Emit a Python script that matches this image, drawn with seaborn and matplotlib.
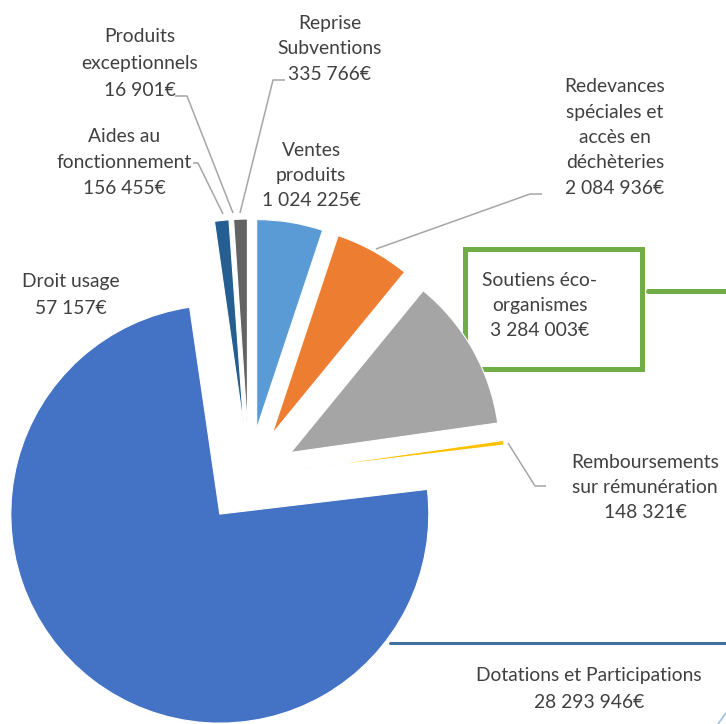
import matplotlib
matplotlib.use("Agg")
import matplotlib.pyplot as plt
import seaborn as sns
from matplotlib.patches import Rectangle

# slices in clockwise order from 12 o'clock
categories = ["Ventes\nproduits", "Redevances\nspéciales et\naccès en\ndéchèteries",
              "Soutiens éco-\norganismes", "Remboursements\nsur rémunération",
              "Dotations et Participations", "Droit usage", "Aides au\nfonctionnement",
              "Produits\nexceptionnels", "Reprise\nSubventions"]
amounts = ["1 024 225€", "2 084 936€", "3 284 003€", "148 321€", "28 293 946€",
           "57 157€", "156 455€", "16 901€", "335 766€"]
# slice sizes as drawn (degrees of the circle)
shares = [18.4, 20.9, 42.6, 1.3, 268.5, 0.2, 4.0, 0.3, 3.8]

colors = ["#5B9BD5", "#ED7D31", "#A5A5A5", "#FFC000", "#4472C4",
          "#70AD47", "#255E91", "#9E480E", "#636363"]

W, H = 726, 724
TXT = "#404040"
LEAD = "#A6A6A6"

# label layout: centre x, first line y (image px), line step
layout = [(311, 150, 25.5), (615, 87, 25.3), (540, 280, 25.2), (645, 462, 25.2),
          (589, 675, 27.5), (71, 282, 26), (124, 137, 25.5), (140, 37, 26.5), (330, 23, 26)]


def iy(y):
    return H - y


sns.set_theme(style="white")
plt.rcParams["font.family"] = ["Lato", "DejaVu Sans"]

fig = plt.figure(figsize=(W / 100, H / 100), dpi=100)
ax = fig.add_axes([0, 0, 1, 1])

wedges, _ = ax.pie(shares, colors=colors, startangle=90, counterclock=False,
                   explode=[48] * len(shares), radius=209, center=(249, iy(476)),
                   wedgeprops=dict(linewidth=0.8, edgecolor="white"))
for w in wedges:
    w.set_zorder(3)

ax.set_xlim(0, W)
ax.set_ylim(0, H)
ax.set_aspect("equal")
ax.axis("off")

# labels
for name, amt, (x, y0, step) in zip(categories, amounts, layout):
    lines = name.split("\n") + [amt]
    for i, ln in enumerate(lines):
        ax.text(x, iy(y0 + i * step), ln, ha="center", va="center",
                fontsize=13.9, color=TXT, zorder=5)

# leader lines
leaders = [
    [(175, 96), (187, 96), (233, 213)],
    [(193, 163), (198, 163), (223, 214)],
    [(285, 80), (273, 80), (240, 213)],
    [(376, 249), (530, 194), (542, 194)],
    [(508, 443), (535, 486), (546, 486)],
]
for pts in leaders:
    ax.plot([p[0] for p in pts], [iy(p[1]) for p in pts], color=LEAD, lw=1.1,
            solid_capstyle="butt", zorder=4)

# callout box for Soutiens (drawn under the pie)
ax.add_patch(Rectangle((464.5, iy(368.5)), 177, 120, fill=False,
                       edgecolor="#70AD47", lw=3.6, zorder=2))
ax.plot([648, W], [iy(291), iy(291)], color="#70AD47", lw=3.6, zorder=2)

# callout box for Dotations (cut by the frame)
ax.plot([390, W], [iy(642.5), iy(642.5)], color="#41719C", lw=2.2, zorder=2)
ax.plot([718, W], [iy(H), iy(713)], color="#9DC3E6", lw=1.2, zorder=2)

fig.savefig("out.png", dpi=100)
